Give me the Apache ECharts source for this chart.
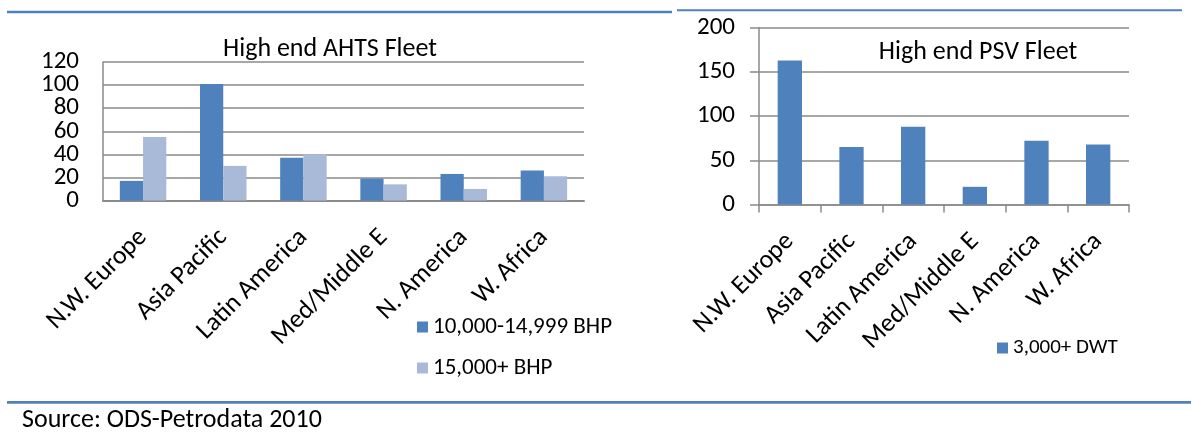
<!DOCTYPE html>
<html>
<head>
<meta charset="utf-8">
<title>High end AHTS and PSV Fleet</title>
<script src="https://cdn.jsdelivr.net/npm/echarts@6/dist/echarts.min.js"></script>
<style>
  html, body { margin: 0; padding: 0; background: #ffffff; }
  #chart { width: 1191px; height: 433px; }
</style>
</head>
<body>
<div id="chart"></div>
<script>
// Regions shared by both fleet charts
const regions = ['N.W. Europe', 'Asia Pacific', 'Latin America', 'Med/Middle E', 'N. America', 'W. Africa'];

// Anchor handler tug supply (AHTS) fleet, number of vessels by engine power
const ahtsSeriesNames = ['10,000-14,999 BHP', '15,000+ BHP'];
const ahtsMid = [17, 101, 37, 19, 23, 26];
const ahtsHigh = [55, 30, 40, 14, 10, 21];

// Platform supply vessel (PSV) fleet, number of vessels by deadweight
const psvSeriesName = '3,000+ DWT';
const psvFleet = [163, 65, 88, 20, 72, 68];

const titles = ['High end AHTS Fleet', 'High end PSV Fleet'];
const sourceNote = 'Source: ODS-Petrodata 2010';

const FONT = 'Carlito, Lato, "Open Sans", sans-serif';
const BLUE = '#4f81bd';
const LIGHT = '#a9b9d8';
const GRID = '#8a8a8a';

const chart = echarts.init(document.getElementById('chart'), null, { renderer: 'canvas' });

// Slanted region names: the end of each name sits just under its category
const xLabel = {
  rotate: 45,
  align: 'right',
  verticalAlign: 'middle',
  padding: [22, 0, 0, 0],
  margin: 33,
  interval: 0,
  color: '#000',
  fontFamily: FONT,
  fontSize: 26
};
const yLabel = {
  color: '#000', fontFamily: FONT, fontSize: 25, margin: 24,
  showMinLabel: true, showMaxLabel: true
};
// The AHTS ticks are too close for large numbers to pass the overlap check,
// so alternate ticks are labelled by two axes sharing the same scale.
const ahtsAxisBase = { type: 'value', gridIndex: 0, min: 0, max: 120, interval: 20 };

const titleStyle = { fontFamily: FONT, fontSize: 26, lineHeight: 26, fontWeight: 'normal', color: '#000' };

chart.setOption({
  animation: false,
  textStyle: { fontFamily: FONT },
  title: [
    { text: titles[0], left: 330, top: 36.2, textAlign: 'center', padding: 0, textStyle: titleStyle },
    { text: titles[1], left: 978, top: 39.2, textAlign: 'center', padding: 0, textStyle: titleStyle }
  ],
  legend: [
    { data: ahtsSeriesNames, orient: 'vertical', left: 417, top: 315.5, padding: 0,
      itemWidth: 11, itemHeight: 11, itemGap: 18, icon: 'rect',
      textStyle: { fontFamily: FONT, fontSize: 23, color: '#000', lineHeight: 22 } },
    { data: [psvSeriesName], orient: 'vertical', left: 997, top: 337, padding: 0,
      itemWidth: 11, itemHeight: 11, icon: 'rect',
      textStyle: { fontFamily: FONT, fontSize: 21, color: '#000', lineHeight: 22 } }
  ],
  grid: [
    { left: 103, right: 607, top: 62, bottom: 232.5 },
    { left: 759, right: 62, top: 27.7, bottom: 228.5 }
  ],
  xAxis: [
    { type: 'category', gridIndex: 0, data: regions,
      axisLine: { lineStyle: { color: GRID, width: 2 } },
      axisTick: { show: false },
      axisLabel: xLabel },
    { type: 'category', gridIndex: 1, data: regions,
      axisLine: { lineStyle: { color: GRID, width: 1.5 } },
      axisTick: { show: true, length: 8, lineStyle: { color: GRID, width: 1.5 } },
      axisLabel: xLabel }
  ],
  yAxis: [
    Object.assign({}, ahtsAxisBase, {
      position: 'left',
      axisLine: { show: true, lineStyle: { color: GRID, width: 1.5 } },
      axisTick: { show: false },
      splitLine: { lineStyle: { color: GRID, width: 1.5 } },
      axisLabel: Object.assign({}, yLabel, { formatter: v => (v % 40 === 0 ? String(v) : '') })
    }),
    { type: 'value', gridIndex: 1, min: 0, max: 200, interval: 50,
      axisLine: { show: true, lineStyle: { color: GRID, width: 1.5 } },
      axisTick: { show: true, length: 9, lineStyle: { color: GRID, width: 1.5 } },
      splitLine: { lineStyle: { color: GRID, width: 1.5 } },
      axisLabel: yLabel },
    Object.assign({}, ahtsAxisBase, {
      position: 'left', offset: 0,
      axisLine: { show: false },
      axisTick: { show: false },
      splitLine: { show: false },
      axisLabel: Object.assign({}, yLabel, { formatter: v => (v % 40 === 20 ? String(v) : '') })
    })
  ],
  series: [
    { name: ahtsSeriesNames[0], type: 'bar', xAxisIndex: 0, yAxisIndex: 0,
      data: ahtsMid, itemStyle: { color: BLUE }, barGap: '0%', barCategoryGap: '42%' },
    { name: ahtsSeriesNames[1], type: 'bar', xAxisIndex: 0, yAxisIndex: 0,
      data: ahtsHigh, itemStyle: { color: LIGHT }, barGap: '0%', barCategoryGap: '42%' },
    { name: psvSeriesName, type: 'bar', xAxisIndex: 1, yAxisIndex: 1,
      data: psvFleet, itemStyle: { color: BLUE }, barCategoryGap: '60.6%' }
  ],
  graphic: [
    // page rules above and below the charts
    { type: 'line', shape: { x1: 7, y1: 12, x2: 672, y2: 12 }, style: { stroke: BLUE, lineWidth: 2.5 } },
    { type: 'line', shape: { x1: 677, y1: 10.3, x2: 1182, y2: 10.3 }, style: { stroke: BLUE, lineWidth: 2 } },
    { type: 'line', shape: { x1: 7, y1: 402.3, x2: 1191, y2: 402.3 }, style: { stroke: BLUE, lineWidth: 2.7 } },
    { type: 'text', x: 22, y: 420, style: { text: sourceNote, font: '26px ' + FONT, fill: '#000', textVerticalAlign: 'middle' } }
  ]
});
</script>
</body>
</html>
